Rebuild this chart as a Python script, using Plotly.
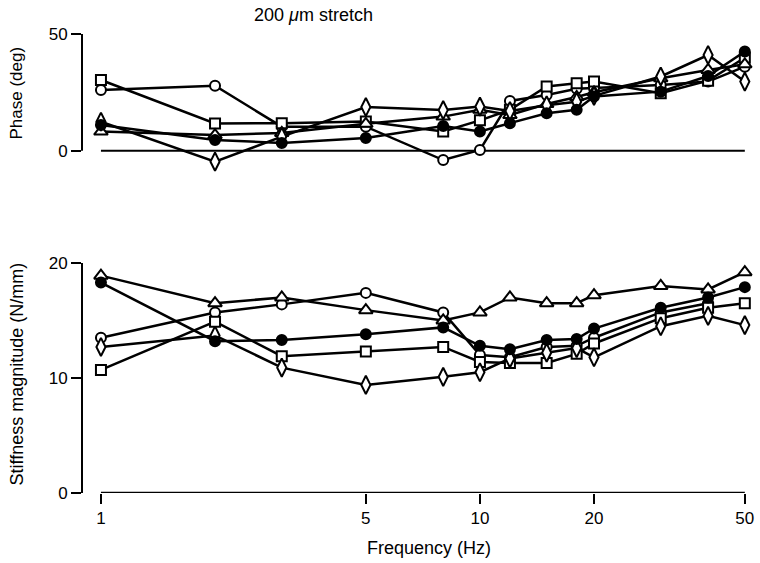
import plotly.graph_objects as go

FREQ = [1, 2, 3, 5, 8, 10, 12, 15, 18, 20, 30, 40, 50]

# Phase (deg)
PH_CIRCLE = [26.0, 27.8, 10.3, 10.3, -4.0, 0.3, 21.3, 23.9, 26.5, 26.8, 28.2, 29.6, 36.0]
PH_SQUARE = [30.3, 11.7, 11.8, 12.5, 8.2, 13.0, 17.5, 27.5, 28.9, 29.6, 24.6, 30.0, 39.8]
PH_TRIANGLE = [8.2, 6.7, 7.6, 11.5, 14.6, 17.5, 15.3, 20.0, 23.0, 25.0, 31.0, 34.6, 37.0]
PH_FILLED = [11.0, 4.6, 3.3, 5.4, 10.6, 8.2, 11.8, 16.0, 17.5, 23.2, 25.3, 32.0, 42.5]
PH_DIAMOND = [12.4, -4.7, 6.0, 18.7, 17.4, 18.9, 17.0, 19.5, 21.0, 23.5, 31.8, 41.0, 29.6]

# Stiffness magnitude (N/mm)
ST_TRIANGLE = [18.9, 16.5, 17.0, 15.9, 15.0, 15.7, 17.0, 16.5, 16.5, 17.2, 18.0, 17.7, 19.2]
ST_FILLED = [18.3, 13.2, 13.3, 13.8, 14.4, 12.8, 12.5, 13.3, 13.4, 14.3, 16.1, 17.0, 17.9]
ST_CIRCLE = [13.5, 15.7, 16.4, 17.4, 15.7, 12.0, 11.8, 12.7, 12.8, 13.5, 15.7, 16.5, None]
ST_SQUARE = [10.7, 14.9, 11.9, 12.3, 12.7, 11.4, 11.3, 11.3, 12.1, 13.0, 15.2, 16.1, 16.5]
ST_DIAMOND = [12.7, 13.7, 10.9, 9.4, 10.1, 10.5, 11.7, 12.2, 12.6, 11.8, 14.5, 15.4, 14.6]

X_TICKS = [1, 5, 10, 20, 50]
PH_TICKS = [0, 50]
ST_TICKS = [0, 10, 20]

FONT = "Liberation Sans, Arial, sans-serif"

SERIES = [
    ("circle", PH_CIRCLE, ST_CIRCLE, 10, "white"),
    ("square", PH_SQUARE, ST_SQUARE, 10, "white"),
    ("triangle-up", PH_TRIANGLE, ST_TRIANGLE, 12, "white"),
    ("diamond-tall", PH_DIAMOND, ST_DIAMOND, 13, "white"),
    ("circle", PH_FILLED, ST_FILLED, 10, "black"),
]

fig = go.Figure()

fig.add_trace(go.Scatter(x=[FREQ[0], FREQ[-1]], y=[0, 0], mode="lines",
                         line=dict(color="black", width=2), hoverinfo="skip",
                         showlegend=False, xaxis="x", yaxis="y"))
fig.add_trace(go.Scatter(x=[FREQ[0], FREQ[-1]], y=[0, 0], mode="lines",
                         line=dict(color="black", width=2.5), hoverinfo="skip",
                         showlegend=False, xaxis="x2", yaxis="y2", cliponaxis=False))

for sym, ph, st, size, fill in SERIES:
    mk = dict(symbol=sym, size=size, color=fill,
              line=dict(color="black", width=2))
    fig.add_trace(go.Scatter(x=FREQ, y=ph, mode="lines+markers",
                             line=dict(color="black", width=2.5), marker=mk,
                             showlegend=False, xaxis="x", yaxis="y", cliponaxis=False))
    fig.add_trace(go.Scatter(x=FREQ, y=st, mode="lines+markers",
                             line=dict(color="black", width=2.5), marker=mk,
                             showlegend=False, xaxis="x2", yaxis="y2", cliponaxis=False))

xrange = [-0.05, 1.71]
PW = 672
fig.update_layout(
    width=760, height=563,
    margin=dict(l=82, r=760 - 82 - PW, t=20, b=70),
    paper_bgcolor="white", plot_bgcolor="white",
    font=dict(family=FONT, size=17, color="black"),
    showlegend=False,
    xaxis=dict(type="log", range=xrange, visible=False, domain=[0, 1],
               anchor="y"),
    yaxis=dict(range=[-8, 52], domain=[0.6842, 0.9803], tickvals=PH_TICKS,
               ticks="outside", ticklen=10, tickwidth=2, tickcolor="black",
               showgrid=False, zeroline=False, showline=False, anchor="x",
               tickfont=dict(size=17)),
    xaxis2=dict(type="log", range=xrange, tickvals=X_TICKS,
                ticktext=[str(v) for v in X_TICKS], ticks="outside",
                ticklen=10, tickwidth=2, tickcolor="black", showgrid=False,
                zeroline=False, showline=False, anchor="y2", domain=[0, 1],
                tickfont=dict(size=17)),
    yaxis2=dict(range=[0, 20], domain=[0, 0.4863], tickvals=ST_TICKS,
                ticks="outside", ticklen=10, tickwidth=2, tickcolor="black",
                showgrid=False, zeroline=False, showline=False, anchor="x2",
                tickfont=dict(size=17)),
    shapes=[
        dict(type="line", xref="paper", yref="y", x0=0, x1=0,
             y0=PH_TICKS[0], y1=PH_TICKS[-1], line=dict(color="black", width=2)),
        dict(type="line", xref="paper", yref="y2", x0=0, x1=0,
             y0=ST_TICKS[0], y1=ST_TICKS[-1], line=dict(color="black", width=2)),
    ],
    annotations=[
        dict(text="200 <i>μ</i>m stretch", xref="paper", yref="paper",
             x=(315 - 82) / PW, y=(493 - 15) / 473, showarrow=False,
             font=dict(size=18), xanchor="center", yanchor="middle"),
        dict(text="Phase (deg)", xref="paper", yref="paper", textangle=-90,
             x=(17 - 82) / PW, xanchor="center", y=(493 - 93) / 473, yanchor="middle",
             showarrow=False, font=dict(size=17)),
        dict(text="Stiffness magnitude (N/mm)", xref="paper", yref="paper",
             textangle=-90, x=(17 - 82) / PW, xanchor="center", y=(493 - 374) / 473,
             yanchor="middle", showarrow=False, font=dict(size=18)),
        dict(text="Frequency (Hz)", xref="paper", yref="paper",
             x=(432 - 82) / PW, y=(493 - 548) / 473, xanchor="center",
             yanchor="middle", showarrow=False, font=dict(size=18)),
    ],
)

fig.write_html("out.html", post_script="document.body.style.margin='0';",
               config={"displayModeBar": False})
